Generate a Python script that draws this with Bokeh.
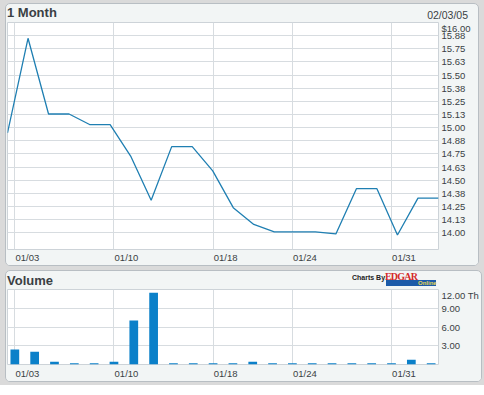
from bokeh.plotting import figure
from bokeh.models import Range1d, FixedTicker, LinearAxis, Grid, Div
from bokeh.layouts import column
from bokeh.embed import file_html
from bokeh.resources import INLINE

# ---------------- data ----------------
dates = ["01/03", "01/04", "01/05", "01/06", "01/07", "01/10", "01/11", "01/12",
         "01/13", "01/14", "01/18", "01/19", "01/20", "01/21", "01/24", "01/25",
         "01/26", "01/27", "01/28", "01/31", "02/01", "02/02"]
price = [14.95, 15.85, 15.13, 15.13, 15.03, 15.03, 14.73, 14.31, 14.82, 14.82,
         14.59, 14.24, 14.08, 14.01, 14.01, 14.01, 13.99, 14.42, 14.42, 13.98,
         14.33, 14.33]
volume = [2.40, 2.03, 0.43, 0.20, 0.20, 0.43, 7.04, 11.47, 0.20, 0.20, 0.20,
          0.20, 0.43, 0.20, 0.20, 0.20, 0.20, 0.20, 0.20, 0.20, 0.75, 0.20]
tick_dates = ["01/03", "01/10", "01/18", "01/24", "01/31"]
price_ticks = [14.0, 14.125, 14.25, 14.375, 14.5, 14.625, 14.75, 14.875, 15.0,
               15.125, 15.25, 15.375, 15.5, 15.625, 15.75, 15.875, 16.0]
price_tick_labels = ["14.00", "14.13", "14.25", "14.38", "14.50", "14.63", "14.75",
                     "14.88", "15.00", "15.13", "15.25", "15.38", "15.50", "15.63",
                     "15.75", "15.88", "$16.00"]
volume_ticks = [3, 6, 9, 12]
volume_tick_labels = ["3.00", "6.00", "9.00", "12.00 Th"]
title_price = "1 Month"
title_volume = "Volume"
date_stamp = "02/03/05"
credit = "Charts By"
logo_top = "EDGAR"
logo_bottom = "Online"

# ---------------- style ----------------
FONT = "Liberation Sans"
LINE_COLOR = "#1f7fb2"
BAR_COLOR = "#0b80c9"
GRID_COLOR = "#d7dce0"
PANEL = "#f2f5f5"
TEXT = "#3a3f44"
PAD = 0.37          # padding of the day axis, in days
LABEL_SHIFT = 0.63  # date labels start just right of their grid line
FW = 431
FH1 = 227
FH2 = 75
W = 472

idx = list(range(len(dates)))
tick_idx = [dates.index(d) for d in tick_dates]
label_pos = [i + LABEL_SHIFT for i in tick_idx]
date_overrides = dict(zip(label_pos, tick_dates))
panel_styles = {"border": "1px solid #b8bec3", "border-radius": "5px",
                "overflow": "hidden", "background-color": PANEL}


def style_axis(ax, size="9.5px"):
    ax.axis_line_color = None
    ax.major_tick_line_color = None
    ax.minor_tick_line_color = None
    ax.major_tick_out = 0
    ax.major_tick_in = 0
    ax.major_label_text_font = FONT
    ax.major_label_text_font_size = size
    ax.major_label_text_color = TEXT


def make_fig(fh, y_range, x_range, bottom, extra=None):
    kw = dict(frame_width=FW, frame_height=fh, x_range=x_range, y_range=y_range,
              x_axis_location=None, y_axis_location=None,
              toolbar_location=None, output_backend="svg",
              min_border_left=1, min_border_right=W - FW - 1, min_border_top=0,
              min_border_bottom=bottom,
              background_fill_color="white", border_fill_color=PANEL,
              outline_line_color="#cdd3d8", margin=0)
    if extra:
        kw["extra_x_ranges"] = extra
    p = figure(**kw)
    p.xgrid.visible = False
    p.ygrid.visible = False
    return p


# ---------------- price panel ----------------
p1 = make_fig(FH1, Range1d(13.842, 16.0), Range1d(0, len(dates) - 1), 14,
              extra={"days": Range1d(-PAD, len(dates) - 1 + PAD)})

yax1 = LinearAxis(ticker=FixedTicker(ticks=price_ticks),
                  major_label_overrides=dict(zip(price_ticks, price_tick_labels)))
style_axis(yax1)
yax1.major_label_standoff = 3
yax1.major_label_text_baseline = "top"
p1.add_layout(yax1, "right")

xax1 = LinearAxis(x_range_name="days", ticker=FixedTicker(ticks=label_pos),
                  major_label_overrides=date_overrides)
style_axis(xax1)
xax1.major_label_standoff = 2
p1.add_layout(xax1, "below")

p1.add_layout(Grid(dimension=1, ticker=FixedTicker(ticks=price_ticks),
                   grid_line_color=GRID_COLOR))
p1.add_layout(Grid(dimension=0, ticker=FixedTicker(ticks=tick_idx),
                   x_range_name="days", grid_line_color=GRID_COLOR))

p1.line(idx, price, line_color=LINE_COLOR, line_width=1.3)

head1 = Div(width=W, height=18, margin=0, text=(
    f'<div style="position:relative;width:{W}px;height:18px;'
    f'font-family:\'{FONT}\',Arial,sans-serif;color:{TEXT};">'
    f'<span style="position:absolute;left:1px;top:1px;font-size:13px;'
    f'font-weight:bold;line-height:15px;white-space:nowrap;">{title_price}</span>'
    f'<span style="position:absolute;right:10px;top:5px;font-size:10.5px;'
    f'line-height:12px;white-space:nowrap;">{date_stamp}</span></div>'))

panel1 = column(head1, p1, spacing=0, margin=0, styles=panel_styles)

# ---------------- volume panel ----------------
p2 = make_fig(FH2, Range1d(0, 12), Range1d(-PAD, len(dates) - 1 + PAD), 16)

yax2 = LinearAxis(ticker=FixedTicker(ticks=volume_ticks),
                  major_label_overrides=dict(zip(volume_ticks, volume_tick_labels)))
style_axis(yax2)
yax2.major_label_standoff = 3
yax2.major_label_text_baseline = "top"
p2.add_layout(yax2, "right")

xax2 = LinearAxis(ticker=FixedTicker(ticks=label_pos), major_label_overrides=date_overrides)
style_axis(xax2)
xax2.major_label_standoff = 3
p2.add_layout(xax2, "below")

p2.add_layout(Grid(dimension=1, ticker=FixedTicker(ticks=volume_ticks),
                   grid_line_color=GRID_COLOR))
p2.add_layout(Grid(dimension=0, ticker=FixedTicker(ticks=tick_idx),
                   grid_line_color=GRID_COLOR))

p2.vbar(x=idx, top=volume, width=0.44, bottom=0, fill_color=BAR_COLOR, line_color=None)

head2 = Div(width=W, height=18, margin=0, text=(
    f'<div style="position:relative;width:{W}px;height:18px;'
    f'font-family:\'{FONT}\',Arial,sans-serif;color:{TEXT};">'
    f'<span style="position:absolute;left:1px;top:2px;font-size:13px;'
    f'font-weight:bold;line-height:15px;white-space:nowrap;">{title_volume}</span>'
    f'<span style="position:absolute;left:346px;top:3px;font-size:7px;font-weight:bold;'
    f'line-height:8px;color:#222;white-space:nowrap;">{credit}</span>'
    f'<span style="position:absolute;left:379px;top:1px;font-family:\'Liberation Serif\',serif;'
    f'font-size:10px;font-weight:bold;letter-spacing:-0.8px;line-height:10px;'
    f'color:#d42a2a;white-space:nowrap;">{logo_top}</span>'
    f'<span style="position:absolute;left:380px;top:9px;width:50px;height:6px;'
    f'background-color:#1c5aa8;"></span>'
    f'<span style="position:absolute;left:412px;top:9px;width:17px;height:6px;'
    f'font-size:6px;font-weight:bold;line-height:6px;color:#e6d65a;text-align:right;'
    f'white-space:nowrap;">{logo_bottom}</span></div>'))

panel2 = column(head2, p2, spacing=0, margin=0, styles=panel_styles)

layout = column(panel1, panel2, spacing=4, margin=0,
                styles={"background-color": "#dadada", "padding": "3px 3px 3px 5px"})

open("out.html", "w").write(file_html(layout, INLINE))
